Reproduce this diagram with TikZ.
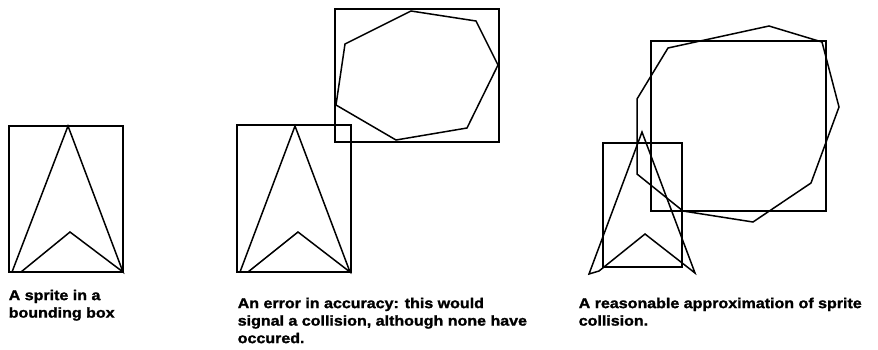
\documentclass[tikz,border=0pt]{standalone}
\usepackage{fontspec}
\setmainfont[FakeStretch=1.12, BoldFeatures={FakeBold=1.5}]{Liberation Sans}
\usepackage{tikz}

\tikzset{caption/.style={anchor=north west, align=left, inner sep=0pt,
    font=\bfseries\fontsize{14.3}{17.5}\selectfont}}

\begin{document}
\begin{tikzpicture}[x=1pt, y=-1pt, line width=1.5pt]
  \useasboundingbox (0,0) rectangle (878,349);

  % sprite in its bounding box
  \draw (9,126) rectangle (123,272);
  \draw (68,126) -- (12,272) -- (21,272) -- (70,232) -- (123,272) -- cycle;

  % two boxes overlap, the shapes do not
  \draw (237,125) rectangle (351,272);
  \draw (295,126) -- (240,272) -- (248,272) -- (298,232) -- (350,272) -- cycle;
  \draw (335,9) rectangle (499,142);
  \draw (411,11) -- (476,21) -- (498,65) -- (467,128) -- (396,140)
    -- (336,105) -- (345,44) -- cycle;

  % shapes really touch
  \draw (603,143) rectangle (682,267);
  \draw (642,132) -- (589,274) -- (599,271) -- (645,234) -- (695,273) -- cycle;
  \draw (651,41) rectangle (826,211);
  \draw (769,26) -- (822,42) -- (839,107) -- (811,183) -- (753,222)
    -- (683,211) -- (637,174) -- (637,99) -- (668,48) -- cycle;

  \node[caption] (capbox) at (8,289) {A sprite in a\\bounding box};
  \node[caption] (caperror) at (237,297) {An error in accuracy: this would\\signal a collision, although none have\\occured.};
  \node[caption] (capgood) at (578,297) {A reasonable approximation of sprite\\collision.};
\end{tikzpicture}
\end{document}
